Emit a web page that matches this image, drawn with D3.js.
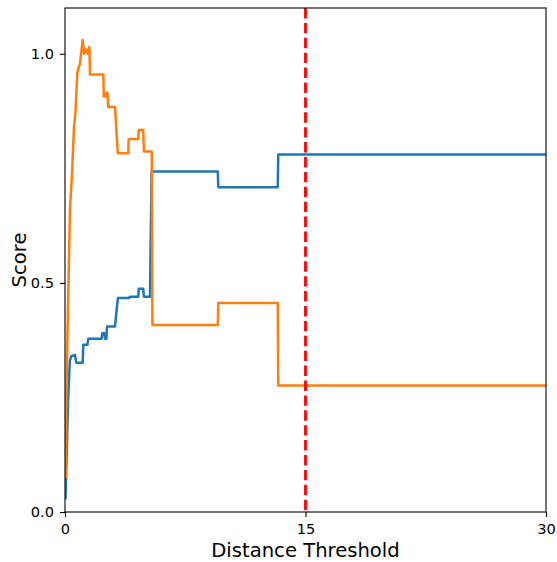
<!DOCTYPE html>
<html><head><meta charset="utf-8">
<script src="https://cdn.jsdelivr.net/npm/d3@7"></script>
<style>body{margin:0;background:#fff;} svg{display:block;}</style>
</head><body>
<svg id="c" width="557" height="562"></svg>
<script>
// Series data (distance threshold, score)
const blueX = [0.03,0.1,0.2,0.3,0.4,0.62,0.7,1.1,1.14,1.4,1.45,2.28,2.33,2.45,2.5,2.58,2.62,3.12,3.2,3.3,4.0,4.05,4.57,4.6,4.88,4.92,5.3,5.4,9.53,9.56,13.27,13.3,30];
const blueY = [0.03,0.12,0.25,0.33,0.34,0.343,0.326,0.326,0.365,0.365,0.378,0.378,0.39,0.39,0.378,0.378,0.405,0.405,0.434,0.467,0.467,0.47,0.47,0.487,0.487,0.47,0.47,0.743,0.743,0.709,0.709,0.78,0.78];
const orangeX = [0.05,0.1,0.19,0.31,0.44,0.56,0.65,0.77,0.94,1.1,1.2,1.31,1.42,1.52,1.56,2.39,2.42,2.55,2.58,2.65,2.7,3.12,3.29,3.95,3.97,4.57,4.6,4.88,4.92,5.41,5.45,9.53,9.56,13.27,13.3,30];
const orangeY = [0.076,0.29,0.45,0.66,0.74,0.84,0.87,0.96,0.98,1.03,1.0,1.01,1.0,1.015,0.955,0.955,0.907,0.907,0.915,0.915,0.884,0.884,0.783,0.783,0.814,0.814,0.834,0.834,0.787,0.787,0.408,0.408,0.456,0.456,0.276,0.276];
const threshold = 15;
const xTicks = [0, 15, 30];
const yTicks = [0.0, 0.5, 1.0];
const xDomain = [0, 30];
const yDomain = [0, 1.1];

const L = 65, R = 546, T = 8, B = 512;
const svg = d3.select("#c");
const x = d3.scaleLinear().domain(xDomain).range([L, R]);
const y = d3.scaleLinear().domain(yDomain).range([B, T]);

svg.append("defs").append("clipPath").attr("id","clip")
  .append("rect").attr("x",L).attr("y",T).attr("width",R-L).attr("height",B-T);

const line = d3.line().x(d=>x(d[0])).y(d=>y(d[1]));
const g = svg.append("g").attr("clip-path","url(#clip)");
g.append("path").datum(blueX.map((v,i)=>[v,blueY[i]]))
  .attr("d",line).attr("fill","none").attr("stroke","#1f77b4").attr("stroke-width",2.5)
  .attr("stroke-linejoin","round").attr("stroke-linecap","square");
g.append("path").datum(orangeX.map((v,i)=>[v,orangeY[i]]))
  .attr("d",line).attr("fill","none").attr("stroke","#ff7f0e").attr("stroke-width",2.5)
  .attr("stroke-linejoin","round").attr("stroke-linecap","square");
g.append("line").attr("x1",x(threshold)).attr("x2",x(threshold)).attr("y1",T).attr("y2",B)
  .attr("stroke","#ff0000").attr("stroke-width",2.8).attr("stroke-dasharray","10.4,4.5");

const font = "DejaVu Sans, sans-serif";
const xAxis = svg.append("g").attr("transform",`translate(0,${B})`)
  .call(d3.axisBottom(x).tickValues(xTicks).tickFormat(d3.format("d")).tickSize(5).tickPadding(7));
const yAxis = svg.append("g").attr("transform",`translate(${L},0)`)
  .call(d3.axisLeft(y).tickValues(yTicks).tickFormat(d3.format(".1f")).tickSize(5).tickPadding(6));
[xAxis,yAxis].forEach(a=>{
  a.select(".domain").remove();
  a.selectAll("line").attr("stroke","#000").attr("stroke-width",1.1);
  a.selectAll("text").attr("font-family",font).attr("font-size",14.6).attr("fill","#000");
});
svg.append("rect").attr("x",L).attr("y",T).attr("width",R-L).attr("height",B-T)
  .attr("fill","none").attr("stroke","#000").attr("stroke-width",1.1);

svg.append("text").attr("x",(L+R)/2).attr("y",557).attr("text-anchor","middle")
  .attr("font-family",font).attr("font-size",19.6).attr("fill","#000").text("Distance Threshold");
svg.append("text").attr("transform",`translate(26,${(T+B)/2}) rotate(-90)`).attr("text-anchor","middle")
  .attr("font-family",font).attr("font-size",19.6).attr("fill","#000").text("Score");
</script>
</body></html>
